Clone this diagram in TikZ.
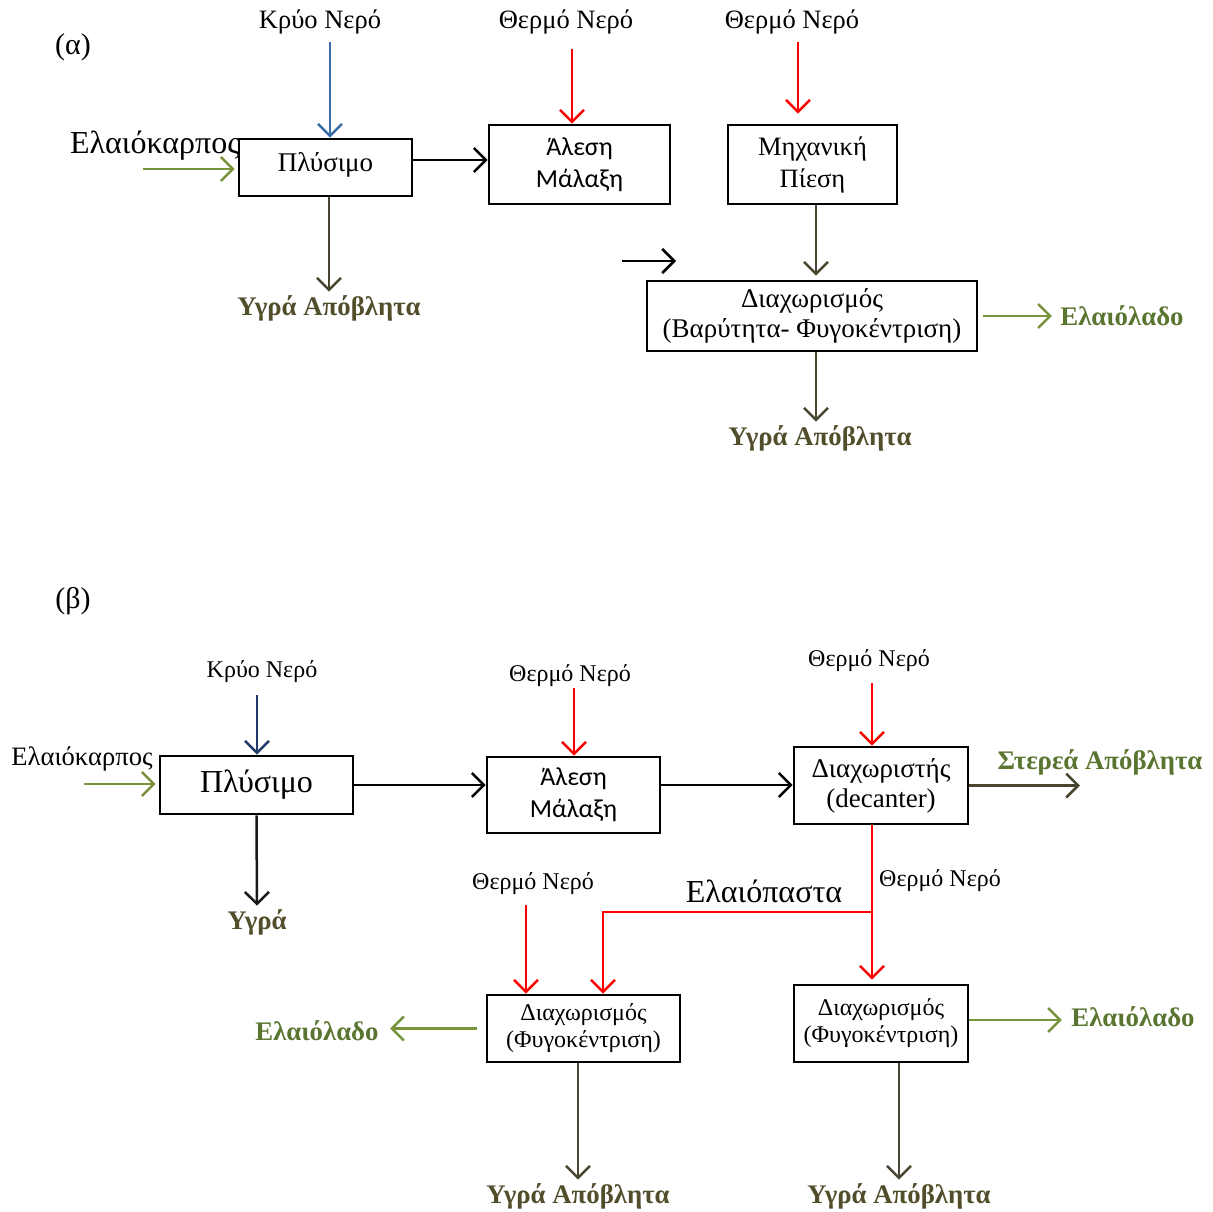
\documentclass[tikz,border=0pt]{standalone}
\usepackage{fontspec}
\setmainfont{Liberation Serif}
\newfontfamily\calfont{Carlito}
\usepackage{tikz}
\usetikzlibrary{positioning,arrows.meta,calc}
\definecolor{oilgreen}{HTML}{77933C}
\definecolor{oiltext}{HTML}{5A7530}
\definecolor{waste}{HTML}{4A4530}
\definecolor{wastetext}{HTML}{524D2A}
\definecolor{coldA}{HTML}{3A6AA8}
\definecolor{coldB}{HTML}{1F3A6B}
\definecolor{hot}{HTML}{FF0000}

\begin{document}
\begin{tikzpicture}[x=1pt, y=-1pt,
  proc/.style={draw, line width=2.8pt, align=center, inner sep=0pt},
  lblA/.style={font=\fontsize{26.5}{29}\selectfont},
  lblB/.style={font=\fontsize{24}{27}\selectfont},
  prodg/.style={font=\fontsize{26.8}{29}\selectfont\bfseries, text=oiltext},
  prodw/.style={font=\fontsize{26.8}{29}\selectfont\bfseries, text=wastetext},
  flow/.style={-{Straight Barb[length=12pt,width=24pt]}, line width=2.5pt},
  inflow/.style={flow, draw=oilgreen},
  outflow/.style={flow, draw=waste}]
\useasboundingbox (0,0) rectangle (1213,1211);

% (a)
\node[font=\fontsize{30}{32}\selectfont] (tagA) at (73,47) {(α)};
\node[proc, minimum width=173pt, minimum height=57pt, font=\fontsize{27}{30}\selectfont] (wash1) at (325.5,167.5) {\raisebox{11pt}{Πλύσιμο}};
\node[proc, minimum width=181pt, minimum height=79pt, font=\calfont\fontsize{26}{32}\selectfont] (mill1) at (579.5,164.5) {Άλεση\\Μάλαξη};
\node[proc, minimum width=169pt, minimum height=79pt, font=\fontsize{26.5}{32}\selectfont] (press1) at (812.5,164.5) {Μηχανική\\Πίεση};
\node[proc, minimum width=330pt, minimum height=70pt, font=\fontsize{27}{30}\selectfont] (sep1) at (812,316) {Διαχωρισμός\\(Βαρύτητα- Φυγοκέντριση)};

\node[lblA] (cold1) at (320,22) {Κρύο Νερό};
\node[lblA] (hot1) at (566,22) {Θερμό Νερό};
\node[lblA] (hot2) at (792,22) {Θερμό Νερό};
\node[font=\fontsize{32}{35}\selectfont] (olive1) at (155,146) {Ελαιόκαρπος};
\node[prodw] (ww1) at (329,308) {Υγρά Απόβλητα};
\node[prodw] (ww2) at (820,438) {Υγρά Απόβλητα};
\node[prodg] (oil1) at (1122,316) {Ελαιόλαδο};
\coordinate (c1) at (330,42);
\coordinate (h1) at (572,49);
\coordinate (h2) at (798,42);
\coordinate (o1) at (143,169);
\coordinate (s1) at (622,261);
\coordinate (s2) at (676,261);

\draw[flow, draw=coldA] (c1) -- (c1 |- wash1.north);
\draw[flow, draw=hot] (h1) -- (h1 |- mill1.north);
\draw[flow, draw=hot, shorten >=10pt] (h2) -- (h2 |- press1.north);
\draw[inflow, shorten >=3pt] (o1) -- (o1 -| wash1.west);
\draw[flow] (wash1.east |- 0,160) -- (mill1.west |- 0,160);
\draw[outflow] (wash1.south -| ww1) -- (ww1.north);
\draw[outflow, shorten >=4pt] (press1.south -| 816,0) -- (sep1.north -| 816,0);
\draw[flow] (s1) -- (s2);
\draw[inflow, shorten <=5pt, shorten >=5pt] (sep1.east) -- (oil1.west);
\draw[outflow] (sep1.south -| 816,0) -- (ww2.north -| 816,0);

% (b)
\node[font=\fontsize{30}{32}\selectfont] (tagB) at (73,601) {(β)};
\node[proc, minimum width=193pt, minimum height=58pt, font=\fontsize{32}{36}\selectfont] (wash2) at (256.5,785) {\raisebox{3pt}{Πλύσιμο}};
\node[proc, minimum width=173pt, minimum height=76pt, font=\calfont\fontsize{26}{32}\selectfont] (mill2) at (573.5,795) {Άλεση\\Μάλαξη};
\node[proc, minimum width=174pt, minimum height=77pt, font=\fontsize{27}{30}\selectfont] (dec2) at (881,785.5) {Διαχωριστής\\(decanter)};
\node[proc, minimum width=193pt, minimum height=67pt, font=\fontsize{24}{27}\selectfont] (sepL) at (583.5,1028.5) {Διαχωρισμός\\(Φυγοκέντριση)};
\node[proc, minimum width=174pt, minimum height=77pt, font=\fontsize{24}{27}\selectfont] (sepR) at (881,1023.5) {\raisebox{6pt}{\begin{tabular}{@{}c@{}}Διαχωρισμός\\(Φυγοκέντριση)\end{tabular}}};

\node[lblB] (cold2) at (262,672) {Κρύο Νερό};
\node[lblB] (hot3) at (570,676) {Θερμό Νερό};
\node[lblB] (hot4) at (869,661) {Θερμό Νερό};
\node[lblB] (hot5) at (533,884) {Θερμό Νερό};
\node[lblB] (hot6) at (940,881) {Θερμό Νερό};
\node[font=\fontsize{26.6}{29}\selectfont] (olive2) at (82,759) {Ελαιόκαρπος};
\node[font=\fontsize{32}{35}\selectfont] (paste) at (764,891) {Ελαιόπαστα};
\node[prodw] (liq) at (257,922) {Υγρά};
\node[prodg] (solid) at (1100,762) {Στερεά Απόβλητα};
\node[prodg] (oil2) at (317,1031) {Ελαιόλαδο};
\node[prodg] (oil3) at (1133,1017) {Ελαιόλαδο};
\node[prodw] (ww3) at (578,1196) {Υγρά Απόβλητα};
\node[prodw] (ww4) at (899,1196) {Υγρά Απόβλητα};
\coordinate (c2) at (257,695);
\coordinate (h3) at (574,688);
\coordinate (h4) at (872,683);
\coordinate (h5) at (526,905);
\coordinate (o2) at (84,784);
\coordinate (sw) at (1080,784);
\coordinate (jn) at (872,912);
\coordinate (pl) at (603,912);

\draw[flow, draw=coldB] (c2) -- (c2 |- wash2.north);
\draw[inflow, shorten >=3pt] (o2) -- (o2 -| wash2.west);
\draw[flow] (wash2.east) -- (wash2.east -| mill2.west);
\draw[flow, draw=hot] (h3) -- (h3 |- mill2.north);
\draw[flow] (mill2.east |- wash2.east) -- (wash2.east -| dec2.west);
\draw[flow, draw=hot] (h4) -- (h4 |- dec2.north);
\draw[outflow] (dec2.east) -- (dec2.east -| sw);
\draw[flow, draw=black!90] (wash2.south) -- (liq.north);
\draw[flow, draw=hot, shorten >=4pt] (dec2.south -| jn) -- (jn |- sepR.north);
\draw[flow, draw=hot] (jn) -- (pl) -- (pl |- sepL.north);
\draw[flow, draw=hot] (h5) -- (h5 |- sepL.north);
\draw[inflow, shorten <=9pt, shorten >=8pt] (sepL.west) -- (sepL.west -| oil2.east);
\draw[outflow] (sepL.south -| ww3) -- (ww3.north);
\draw[inflow, shorten >=6pt] (sepR.east |- 0,1020) -- (oil3.west |- 0,1020);
\draw[outflow] (sepR.south -| ww4) -- (ww4.north);
\end{tikzpicture}
\end{document}
